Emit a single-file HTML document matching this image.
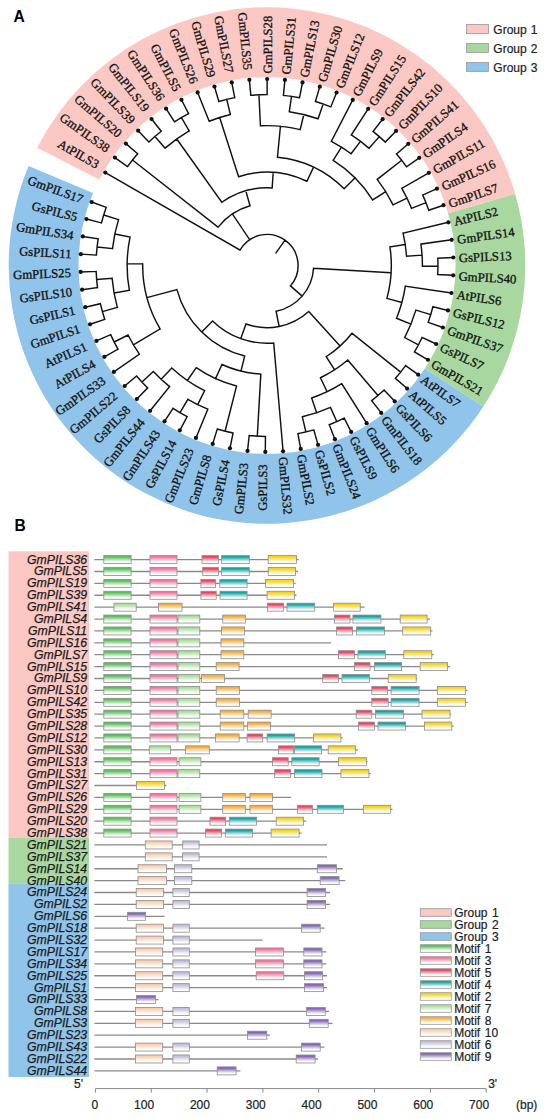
<!DOCTYPE html>
<html><head><meta charset="utf-8"><style>
html,body{margin:0;padding:0;background:#fff;}
body{width:550px;height:1119px;overflow:hidden;}
svg{display:block;}
</style></head><body>
<svg width="550" height="1119" viewBox="0 0 550 1119">
<defs><linearGradient id="gM1" x1="0" y1="0" x2="0" y2="1"><stop offset="0" stop-color="#5cbf5c"/><stop offset="0.18" stop-color="#5cbf5c"/><stop offset="0.8" stop-color="#fff"/></linearGradient><linearGradient id="gM3" x1="0" y1="0" x2="0" y2="1"><stop offset="0" stop-color="#f0789e"/><stop offset="0.18" stop-color="#f0789e"/><stop offset="0.8" stop-color="#fff"/></linearGradient><linearGradient id="gM5" x1="0" y1="0" x2="0" y2="1"><stop offset="0" stop-color="#e84560"/><stop offset="0.18" stop-color="#e84560"/><stop offset="0.8" stop-color="#fff"/></linearGradient><linearGradient id="gM4" x1="0" y1="0" x2="0" y2="1"><stop offset="0" stop-color="#17a3a3"/><stop offset="0.18" stop-color="#17a3a3"/><stop offset="0.8" stop-color="#fff"/></linearGradient><linearGradient id="gM2" x1="0" y1="0" x2="0" y2="1"><stop offset="0" stop-color="#f5d21e"/><stop offset="0.18" stop-color="#f5d21e"/><stop offset="0.8" stop-color="#fff"/></linearGradient><linearGradient id="gM7" x1="0" y1="0" x2="0" y2="1"><stop offset="0" stop-color="#a8e09a"/><stop offset="0.18" stop-color="#a8e09a"/><stop offset="0.8" stop-color="#fff"/></linearGradient><linearGradient id="gM8" x1="0" y1="0" x2="0" y2="1"><stop offset="0" stop-color="#f5ae3c"/><stop offset="0.18" stop-color="#f5ae3c"/><stop offset="0.8" stop-color="#fff"/></linearGradient><linearGradient id="gM10" x1="0" y1="0" x2="0" y2="1"><stop offset="0" stop-color="#fbcfae"/><stop offset="0.18" stop-color="#fbcfae"/><stop offset="0.8" stop-color="#fff"/></linearGradient><linearGradient id="gM6" x1="0" y1="0" x2="0" y2="1"><stop offset="0" stop-color="#c4bedb"/><stop offset="0.18" stop-color="#c4bedb"/><stop offset="0.8" stop-color="#fff"/></linearGradient><linearGradient id="gM9" x1="0" y1="0" x2="0" y2="1"><stop offset="0" stop-color="#8568b5"/><stop offset="0.18" stop-color="#8568b5"/><stop offset="0.8" stop-color="#fff"/></linearGradient></defs>
<rect width="550" height="1119" fill="#fff"/>
<path d="M28.59 166.09A258.30 258.30 0 0 0 483.39 406.54L424.92 368.43A188.50 188.50 0 0 1 93.02 192.96Z" fill="#90c4ea"/>
<path d="M483.39 406.54A258.30 258.30 0 0 0 515.14 193.76L448.08 213.15A188.50 188.50 0 0 1 424.92 368.43Z" fill="#a8d8a0"/>
<path d="M515.14 193.76A258.30 258.30 0 0 0 37.16 147.63L99.27 179.48A188.50 188.50 0 0 1 448.08 213.15Z" fill="#fbc8c3"/>
<path d="M137.64 153.75A170.94 170.94 0 0 0 127.58 166.59M137.64 153.75L125.88 143.60M127.58 166.59L114.91 157.60M161.20 131.24A170.94 170.94 0 0 0 148.88 141.93M161.20 131.24L151.58 119.03M148.88 141.93L138.14 130.70M188.59 113.60A170.94 170.94 0 0 0 174.47 121.77M188.59 113.60L181.47 99.79M174.47 121.77L166.06 108.70M189.21 130.97A155.40 155.40 0 0 0 165.10 148.17M165.10 148.17L154.91 136.44M189.21 130.97L181.44 117.52M234.69 97.64A170.94 170.94 0 0 0 218.84 101.48M218.84 101.48L214.46 86.57M234.69 97.64L231.75 82.38M230.38 114.48A155.40 155.40 0 0 0 209.21 121.25M209.21 121.25L197.65 92.40M230.38 114.48L226.72 99.37M267.13 94.56A170.94 170.94 0 0 0 250.84 95.33M250.84 95.33L249.37 79.86M267.13 94.56L267.14 79.02M299.56 97.69A170.94 170.94 0 0 0 283.42 95.35M283.42 95.35L284.91 79.88M299.56 97.69L302.52 82.43M330.81 106.92A170.94 170.94 0 0 0 315.41 101.56M315.41 101.56L319.81 86.65M330.81 106.92L336.61 92.50M318.07 118.73A155.40 155.40 0 0 0 289.29 111.71M289.29 111.71L291.52 96.33M318.07 118.73L323.17 104.05M300.16 129.63A139.86 139.86 0 0 0 260.43 125.79M260.43 125.79L258.97 94.75M300.16 129.63L303.85 114.53M406.57 166.80A170.94 170.94 0 0 0 396.53 153.95M396.53 153.95L408.30 143.81M406.57 166.80L419.26 157.83M428.76 210.24A170.94 170.94 0 0 0 422.76 195.08M422.76 195.08L436.92 188.67M428.76 210.24L443.47 205.22M411.49 208.31A155.40 155.40 0 0 0 401.85 188.27M401.85 188.27L428.82 172.83M411.49 208.31L425.94 202.59M393.03 204.86A139.86 139.86 0 0 0 377.21 179.39M377.21 179.39L401.70 160.26M393.03 204.86L407.03 198.12M385.30 142.11A170.94 170.94 0 0 0 373.01 131.40M373.01 131.40L382.64 119.21M385.30 142.11L396.06 130.89M369.08 148.33A155.40 155.40 0 0 0 351.31 134.96M351.31 134.96L368.17 108.85M369.08 148.33L379.28 136.61M351.09 153.74A139.86 139.86 0 0 0 331.34 141.32M331.34 141.32L352.78 99.92M351.09 153.74L360.43 141.32M372.60 199.90A124.32 124.32 0 0 0 333.20 160.27M372.60 199.90L385.80 191.70M333.20 160.27L341.47 147.12M344.14 188.80A108.78 108.78 0 0 0 277.45 157.22M277.45 157.22L280.43 126.29M344.14 188.80L355.16 177.84M306.90 181.23A93.24 93.24 0 0 0 238.60 176.69M238.60 176.69L219.67 117.48M306.90 181.23L313.55 167.18M272.15 187.97A77.70 77.70 0 0 0 221.87 202.25M221.87 202.25L176.75 139.00M272.15 187.97L273.18 172.47M250.02 205.70A62.16 62.16 0 0 0 218.08 227.16M218.08 227.16L132.46 160.05M250.02 205.70L245.78 190.75M106.27 207.32A170.94 170.94 0 0 0 101.45 222.90M106.27 207.32L91.66 202.03M101.45 222.90L86.40 219.03M98.15 238.87A170.94 170.94 0 0 0 96.38 255.09M98.15 238.87L82.80 236.45M96.38 255.09L80.87 254.14M118.52 219.64A155.40 155.40 0 0 0 112.52 248.64M118.52 219.64L103.67 215.05M112.52 248.64L97.07 246.96M96.16 271.39A170.94 170.94 0 0 0 97.50 287.65M96.16 271.39L80.63 271.93M97.50 287.65L82.09 289.66M100.38 303.70A170.94 170.94 0 0 0 104.78 319.41M100.38 303.70L85.24 307.18M104.78 319.41L90.04 324.31M112.12 278.26A155.40 155.40 0 0 0 117.36 307.42M112.12 278.26L96.64 279.54M117.36 307.42L102.40 311.61M130.04 237.15A139.86 139.86 0 0 0 129.34 290.22M130.04 237.15L114.83 234.00M129.34 290.22L114.05 292.96M110.66 334.62A170.94 170.94 0 0 0 117.96 349.21M110.66 334.62L96.45 340.91M117.96 349.21L104.41 356.82M128.03 335.05A155.40 155.40 0 0 0 139.38 354.17M128.03 335.05L114.14 342.00M139.38 354.17L113.85 371.90M142.69 263.85A124.32 124.32 0 0 0 160.09 328.95M142.69 263.85L127.15 263.65M160.09 328.95L133.36 344.81M136.55 375.97A170.94 170.94 0 0 0 147.67 387.90M136.55 375.97L124.69 386.01M147.67 387.90L136.82 399.03M153.34 371.47A155.40 155.40 0 0 0 169.62 386.60M153.34 371.47L141.97 382.07M169.62 386.60L150.14 410.82M173.07 408.32A170.94 170.94 0 0 0 187.10 416.62M173.07 408.32L164.53 421.30M187.10 416.62L179.84 430.36M187.90 399.26A155.40 155.40 0 0 0 207.79 409.18M187.90 399.26L179.99 412.64M207.79 409.18L195.95 437.91M171.79 367.95A139.86 139.86 0 0 0 204.60 390.67M171.79 367.95L161.21 379.33M204.60 390.67L197.67 404.58M217.23 429.03A170.94 170.94 0 0 0 233.04 433.03M217.23 429.03L212.71 443.90M233.04 433.03L229.96 448.26M196.22 367.71A124.32 124.32 0 0 0 236.52 386.03M196.22 367.71L187.38 380.48M236.52 386.03L225.09 431.22M249.16 435.51A170.94 170.94 0 0 0 265.45 436.43M249.16 435.51L247.54 450.96M265.45 436.43L265.31 451.97M221.98 364.53A108.78 108.78 0 0 0 260.82 374.10M221.98 364.53L215.55 378.67M260.82 374.10L257.30 436.16M176.92 289.58A93.24 93.24 0 0 0 244.68 356.03M176.92 289.58L146.90 297.60M244.68 356.03L240.96 371.12M212.59 320.97A77.70 77.70 0 0 0 273.70 342.91M212.59 320.97L201.71 332.07M273.70 342.91L283.09 451.28M395.42 378.32A170.94 170.94 0 0 0 405.59 365.57M395.42 378.32L407.10 388.57M405.59 365.57L418.19 374.66M371.68 400.64A170.94 170.94 0 0 0 384.09 390.04M371.68 400.64L381.20 412.92M384.09 390.04L394.73 401.37M297.91 433.62A170.94 170.94 0 0 0 313.79 429.91M297.91 433.62L300.72 448.91M313.79 429.91L318.05 444.86M329.25 424.70A170.94 170.94 0 0 0 344.14 418.04M329.25 424.70L334.91 439.18M344.14 418.04L351.15 431.91M302.36 416.82A155.40 155.40 0 0 0 330.43 407.36M302.36 416.82L305.90 431.96M330.43 407.36L336.77 421.55M311.66 398.04A139.86 139.86 0 0 0 341.72 383.73M311.66 398.04L316.62 412.76M341.72 383.73L366.63 423.13M320.44 377.75A124.32 124.32 0 0 0 347.74 360.04M347.74 360.04L378.01 395.49M320.44 377.75L327.12 391.78M326.21 356.75A108.78 108.78 0 0 0 352.06 333.31M352.06 333.31L400.66 372.06M326.21 356.75L334.67 369.79M246.00 324.00A62.16 62.16 0 0 0 308.76 311.54M246.00 324.00L240.75 338.63M308.76 311.54L340.08 346.08M437.70 274.49A170.94 170.94 0 0 0 437.78 258.18M437.78 258.18L453.31 257.52M437.70 274.49L453.22 275.31M422.40 266.26A155.40 155.40 0 0 0 420.92 244.08M420.92 244.08L451.70 239.80M422.40 266.26L437.94 266.34M406.55 256.18A139.86 139.86 0 0 0 403.06 233.11M403.06 233.11L448.41 222.31M406.55 256.18L422.05 255.15M428.21 322.34A170.94 170.94 0 0 0 432.90 306.72M428.21 322.34L442.87 327.51M432.90 306.72L447.98 310.47M414.50 351.90A170.94 170.94 0 0 0 422.06 337.45M414.50 351.90L427.91 359.76M422.06 337.45L436.16 343.99M404.68 337.56A155.40 155.40 0 0 0 415.85 310.13M415.85 310.13L430.74 314.59M404.68 337.56L418.45 344.77M396.53 318.25A139.86 139.86 0 0 0 405.33 286.14M405.33 286.14L451.44 293.02M396.53 318.25L410.92 324.11M386.90 298.35A124.32 124.32 0 0 0 389.92 246.90M389.92 246.90L405.29 244.57M386.90 298.35L401.89 302.46M276.08 311.23A46.62 46.62 0 0 0 313.54 268.23M276.08 311.23L279.11 326.47M313.54 268.23L391.11 272.78M290.43 285.92A31.08 31.08 0 1 0 240.05 250.01M240.05 250.01L105.32 172.59M249.67 239.70L232.35 213.90M290.43 285.92L302.15 296.12M285.04 240.19L276.02 252.84" fill="none" stroke="#111" stroke-width="1.45" stroke-linecap="square"/>
<g fill="#111"><circle cx="91.66" cy="202.03" r="2.10"/><circle cx="86.40" cy="219.03" r="2.10"/><circle cx="82.80" cy="236.45" r="2.10"/><circle cx="80.87" cy="254.14" r="2.10"/><circle cx="80.63" cy="271.93" r="2.10"/><circle cx="82.09" cy="289.66" r="2.10"/><circle cx="85.24" cy="307.18" r="2.10"/><circle cx="90.04" cy="324.31" r="2.10"/><circle cx="96.45" cy="340.91" r="2.10"/><circle cx="104.41" cy="356.82" r="2.10"/><circle cx="113.85" cy="371.90" r="2.10"/><circle cx="124.69" cy="386.01" r="2.10"/><circle cx="136.82" cy="399.03" r="2.10"/><circle cx="150.14" cy="410.82" r="2.10"/><circle cx="164.53" cy="421.30" r="2.10"/><circle cx="179.84" cy="430.36" r="2.10"/><circle cx="195.95" cy="437.91" r="2.10"/><circle cx="212.71" cy="443.90" r="2.10"/><circle cx="229.96" cy="448.26" r="2.10"/><circle cx="247.54" cy="450.96" r="2.10"/><circle cx="265.31" cy="451.97" r="2.10"/><circle cx="283.09" cy="451.28" r="2.10"/><circle cx="300.72" cy="448.91" r="2.10"/><circle cx="318.05" cy="444.86" r="2.10"/><circle cx="334.91" cy="439.18" r="2.10"/><circle cx="351.15" cy="431.91" r="2.10"/><circle cx="366.63" cy="423.13" r="2.10"/><circle cx="381.20" cy="412.92" r="2.10"/><circle cx="394.73" cy="401.37" r="2.10"/><circle cx="407.10" cy="388.57" r="2.10"/><circle cx="418.19" cy="374.66" r="2.10"/><circle cx="427.91" cy="359.76" r="2.10"/><circle cx="436.16" cy="343.99" r="2.10"/><circle cx="442.87" cy="327.51" r="2.10"/><circle cx="447.98" cy="310.47" r="2.10"/><circle cx="451.44" cy="293.02" r="2.10"/><circle cx="453.22" cy="275.31" r="2.10"/><circle cx="453.31" cy="257.52" r="2.10"/><circle cx="451.70" cy="239.80" r="2.10"/><circle cx="448.41" cy="222.31" r="2.10"/><circle cx="443.47" cy="205.22" r="2.10"/><circle cx="436.92" cy="188.67" r="2.10"/><circle cx="428.82" cy="172.83" r="2.10"/><circle cx="419.26" cy="157.83" r="2.10"/><circle cx="408.30" cy="143.81" r="2.10"/><circle cx="396.06" cy="130.89" r="2.10"/><circle cx="382.64" cy="119.21" r="2.10"/><circle cx="368.17" cy="108.85" r="2.10"/><circle cx="352.78" cy="99.92" r="2.10"/><circle cx="336.61" cy="92.50" r="2.10"/><circle cx="319.81" cy="86.65" r="2.10"/><circle cx="302.52" cy="82.43" r="2.10"/><circle cx="284.91" cy="79.88" r="2.10"/><circle cx="267.14" cy="79.02" r="2.10"/><circle cx="249.37" cy="79.86" r="2.10"/><circle cx="231.75" cy="82.38" r="2.10"/><circle cx="214.46" cy="86.57" r="2.10"/><circle cx="197.65" cy="92.40" r="2.10"/><circle cx="181.47" cy="99.79" r="2.10"/><circle cx="166.06" cy="108.70" r="2.10"/><circle cx="151.58" cy="119.03" r="2.10"/><circle cx="138.14" cy="130.70" r="2.10"/><circle cx="125.88" cy="143.60" r="2.10"/><circle cx="114.91" cy="157.60" r="2.10"/><circle cx="105.32" cy="172.59" r="2.10"/></g>
<g font-family="Liberation Serif" font-size="12.70" fill="#111" stroke="#111" stroke-width="0.3"><text x="82.89" y="198.85" dy="4.9" text-anchor="end" transform="rotate(19.90 82.89 198.85)">GmPILS17</text><text x="77.38" y="216.70" dy="4.9" text-anchor="end" transform="rotate(14.43 77.38 216.70)">GsPILS5</text><text x="73.59" y="235.00" dy="4.9" text-anchor="end" transform="rotate(8.96 73.59 235.00)">GmPILS34</text><text x="71.53" y="253.57" dy="4.9" text-anchor="end" transform="rotate(3.49 71.53 253.57)">GsPILS11</text><text x="70.87" y="272.27" dy="4.9" text-anchor="end" transform="rotate(-1.98 70.87 272.27)">GmPILS25</text><text x="72.00" y="290.98" dy="4.9" text-anchor="end" transform="rotate(-7.44 72.00 290.98)">GsPILS10</text><text x="74.92" y="309.54" dy="4.9" text-anchor="end" transform="rotate(-12.91 74.92 309.54)">GsPILS1</text><text x="79.60" y="327.78" dy="4.9" text-anchor="end" transform="rotate(-18.38 79.60 327.78)">GmPILS1</text><text x="86.01" y="345.52" dy="4.9" text-anchor="end" transform="rotate(-23.85 86.01 345.52)">AtPILS1</text><text x="94.11" y="362.61" dy="4.9" text-anchor="end" transform="rotate(-29.32 94.11 362.61)">AtPILS4</text><text x="103.81" y="378.88" dy="4.9" text-anchor="end" transform="rotate(-34.79 103.81 378.88)">GmPILS33</text><text x="115.09" y="393.74" dy="4.9" text-anchor="end" transform="rotate(-40.26 115.09 393.74)">GmPILS22</text><text x="127.77" y="407.41" dy="4.9" text-anchor="end" transform="rotate(-45.73 127.77 407.41)">GsPILS8</text><text x="141.68" y="419.83" dy="4.9" text-anchor="end" transform="rotate(-51.20 141.68 419.83)">GmPILS44</text><text x="156.69" y="430.89" dy="4.9" text-anchor="end" transform="rotate(-56.67 156.69 430.89)">GmPILS43</text><text x="172.67" y="440.50" dy="4.9" text-anchor="end" transform="rotate(-62.13 172.67 440.50)">GsPILS14</text><text x="189.48" y="448.56" dy="4.9" text-anchor="end" transform="rotate(-67.60 189.48 448.56)">GmPILS23</text><text x="206.97" y="455.02" dy="4.9" text-anchor="end" transform="rotate(-73.07 206.97 455.02)">GmPILS8</text><text x="224.99" y="459.81" dy="4.9" text-anchor="end" transform="rotate(-78.54 224.99 459.81)">GsPILS4</text><text x="243.38" y="462.89" dy="4.9" text-anchor="end" transform="rotate(-84.01 243.38 462.89)">GmPILS3</text><text x="262.25" y="464.24" dy="4.9" text-anchor="end" transform="rotate(-89.48 262.25 464.24)">GsPILS3</text><text x="283.56" y="456.78" dy="4.9" text-anchor="start" transform="rotate(-274.95 283.56 456.78)">GmPILS32</text><text x="301.72" y="454.33" dy="4.9" text-anchor="start" transform="rotate(-280.42 301.72 454.33)">GmPILS2</text><text x="319.56" y="450.17" dy="4.9" text-anchor="start" transform="rotate(-285.89 319.56 450.17)">GsPILS2</text><text x="336.92" y="444.32" dy="4.9" text-anchor="start" transform="rotate(-291.36 336.92 444.32)">GmPILS24</text><text x="353.64" y="436.84" dy="4.9" text-anchor="start" transform="rotate(-296.82 353.64 436.84)">GsPILS9</text><text x="369.58" y="427.80" dy="4.9" text-anchor="start" transform="rotate(-302.29 369.58 427.80)">GmPILS6</text><text x="384.58" y="417.29" dy="4.9" text-anchor="start" transform="rotate(-307.76 384.58 417.29)">GmPILS18</text><text x="398.51" y="405.39" dy="4.9" text-anchor="start" transform="rotate(-313.23 398.51 405.39)">GsPILS6</text><text x="411.24" y="392.22" dy="4.9" text-anchor="start" transform="rotate(-318.70 411.24 392.22)">AtPILS5</text><text x="422.67" y="377.89" dy="4.9" text-anchor="start" transform="rotate(-324.17 422.67 377.89)">AtPILS7</text><text x="432.67" y="362.55" dy="4.9" text-anchor="start" transform="rotate(-329.64 432.67 362.55)">GmPILS21</text><text x="441.16" y="346.31" dy="4.9" text-anchor="start" transform="rotate(-335.11 441.16 346.31)">GsPILS7</text><text x="448.07" y="329.35" dy="4.9" text-anchor="start" transform="rotate(-340.58 448.07 329.35)">GmPILS37</text><text x="453.33" y="311.80" dy="4.9" text-anchor="start" transform="rotate(-346.05 453.33 311.80)">GsPILS12</text><text x="456.90" y="293.83" dy="4.9" text-anchor="start" transform="rotate(-351.51 456.90 293.83)">AtPILS6</text><text x="458.73" y="275.60" dy="4.9" text-anchor="start" transform="rotate(-356.98 458.73 275.60)">GmPILS40</text><text x="458.82" y="257.28" dy="4.9" text-anchor="start" transform="rotate(-2.45 458.82 257.28)">GsPILS13</text><text x="457.17" y="239.04" dy="4.9" text-anchor="start" transform="rotate(-7.92 457.17 239.04)">GmPILS14</text><text x="453.78" y="221.03" dy="4.9" text-anchor="start" transform="rotate(-13.39 453.78 221.03)">AtPILS2</text><text x="448.69" y="203.43" dy="4.9" text-anchor="start" transform="rotate(-18.86 448.69 203.43)">GmPILS7</text><text x="441.95" y="186.40" dy="4.9" text-anchor="start" transform="rotate(-24.33 441.95 186.40)">GmPILS16</text><text x="433.61" y="170.09" dy="4.9" text-anchor="start" transform="rotate(-29.80 433.61 170.09)">GmPILS11</text><text x="423.76" y="154.64" dy="4.9" text-anchor="start" transform="rotate(-35.27 423.76 154.64)">GmPILS4</text><text x="412.48" y="140.21" dy="4.9" text-anchor="start" transform="rotate(-40.74 412.48 140.21)">GmPILS41</text><text x="399.88" y="126.91" dy="4.9" text-anchor="start" transform="rotate(-46.21 399.88 126.91)">GmPILS10</text><text x="386.07" y="114.88" dy="4.9" text-anchor="start" transform="rotate(-51.67 386.07 114.88)">GmPILS42</text><text x="371.17" y="104.21" dy="4.9" text-anchor="start" transform="rotate(-57.14 371.17 104.21)">GmPILS15</text><text x="355.32" y="95.02" dy="4.9" text-anchor="start" transform="rotate(-62.61 355.32 95.02)">GmPILS9</text><text x="338.67" y="87.38" dy="4.9" text-anchor="start" transform="rotate(-68.08 338.67 87.38)">GmPILS12</text><text x="321.37" y="81.36" dy="4.9" text-anchor="start" transform="rotate(-73.55 321.37 81.36)">GmPILS30</text><text x="303.57" y="77.02" dy="4.9" text-anchor="start" transform="rotate(-79.02 303.57 77.02)">GmPILS13</text><text x="285.44" y="74.39" dy="4.9" text-anchor="start" transform="rotate(-84.49 285.44 74.39)">GmPILS31</text><text x="267.14" y="73.50" dy="4.9" text-anchor="start" transform="rotate(-89.96 267.14 73.50)">GmPILS28</text><text x="248.42" y="69.88" dy="4.9" text-anchor="end" transform="rotate(84.57 248.42 69.88)">GmPILS35</text><text x="229.93" y="72.53" dy="4.9" text-anchor="end" transform="rotate(79.11 229.93 72.53)">GmPILS27</text><text x="212.16" y="76.81" dy="4.9" text-anchor="end" transform="rotate(73.64 212.16 76.81)">GmPILS29</text><text x="194.86" y="82.72" dy="4.9" text-anchor="end" transform="rotate(68.17 194.86 82.72)">GmPILS26</text><text x="178.19" y="90.21" dy="4.9" text-anchor="end" transform="rotate(62.70 178.19 90.21)">GmPILS5</text><text x="162.28" y="99.23" dy="4.9" text-anchor="end" transform="rotate(57.23 162.28 99.23)">GmPILS36</text><text x="147.29" y="109.68" dy="4.9" text-anchor="end" transform="rotate(51.76 147.29 109.68)">GmPILS19</text><text x="133.32" y="121.48" dy="4.9" text-anchor="end" transform="rotate(46.29 133.32 121.48)">GmPILS39</text><text x="120.52" y="134.52" dy="4.9" text-anchor="end" transform="rotate(40.82 120.52 134.52)">GmPILS20</text><text x="108.74" y="149.02" dy="4.9" text-anchor="end" transform="rotate(35.35 108.74 149.02)">GmPILS38</text><text x="98.36" y="164.64" dy="4.9" text-anchor="end" transform="rotate(29.88 98.36 164.64)">AtPILS3</text></g>
<g font-family="Liberation Sans" font-size="12" fill="#222" stroke="#222" stroke-width="0.2" word-spacing="0.8"><rect x="466.4" y="24.50" width="22.1" height="9.1" fill="#fbc8c3" stroke="#999" stroke-width="0.8"/><text x="493.3" y="33.60">Group 1</text><rect x="466.4" y="43.45" width="22.1" height="9.1" fill="#a8d8a0" stroke="#999" stroke-width="0.8"/><text x="493.3" y="52.55">Group 2</text><rect x="466.4" y="62.40" width="22.1" height="9.1" fill="#90c4ea" stroke="#999" stroke-width="0.8"/><text x="493.3" y="71.50">Group 3</text></g>
<path d="M95.4 1088.6H486.2" stroke="#888" stroke-width="1"/><path d="M95.40 1088.6V1092.6M151.23 1088.6V1092.6M207.06 1088.6V1092.6M262.89 1088.6V1092.6M318.72 1088.6V1092.6M374.55 1088.6V1092.6M430.38 1088.6V1092.6M486.21 1088.6V1092.6" stroke="#888" stroke-width="1"/>
<rect x="8.5" y="551.3" width="80.5" height="286.5" fill="#fbc8c3"/>
<rect x="8.5" y="837.8" width="80.5" height="46" fill="#a8d8a0"/>
<rect x="8.5" y="883.8" width="80.5" height="193.2" fill="#90c4ea"/>
<path d="M94.4 559.60H298.7M94.4 571.49H298.0M94.4 583.38H295.5M94.4 595.27H296.5M94.4 607.16H364.5M94.4 619.05H430.0M94.4 630.94H432.5M94.4 642.83H331.1M94.4 654.72H433.6M94.4 666.61H450.0M94.4 678.50H417.3M94.4 690.39H467.5M94.4 702.28H467.5M94.4 714.17H451.0M94.4 726.06H453.6M94.4 737.95H342.7M94.4 749.84H358.0M94.4 761.73H367.5M94.4 773.62H370.7M94.4 785.51H166.4M94.4 797.40H291.1M94.4 809.29H392.5M94.4 821.18H306.4M94.4 833.07H301.6M94.4 844.96H327.0M94.4 856.85H327.0M94.4 868.74H342.7M94.4 880.63H345.3M94.4 892.52H330.0M94.4 904.41H330.0M94.4 916.30H164.5M94.4 928.19H324.5M94.4 940.08H262.5M94.4 951.97H326.4M94.4 963.86H326.4M94.4 975.75H327.0M94.4 987.64H327.0M94.4 999.53H158.4M94.4 1011.42H329.0M94.4 1023.31H332.5M94.4 1035.20H270.0M94.4 1047.09H324.4M94.4 1058.98H318.0M94.4 1070.87H240.5" stroke="#8a8a8a" stroke-width="1.3" fill="none"/>
<g stroke="#8c8c8c" stroke-width="0.8"><rect x="103.8" y="555.60" width="27.3" height="8.0" fill="url(#gM1)"/><rect x="150.0" y="555.60" width="27.0" height="8.0" fill="url(#gM3)"/><rect x="202.0" y="555.60" width="16.4" height="8.0" fill="url(#gM5)"/><rect x="221.6" y="555.60" width="27.7" height="8.0" fill="url(#gM4)"/><rect x="268.2" y="555.60" width="28.3" height="8.0" fill="url(#gM2)"/><rect x="103.8" y="567.49" width="27.3" height="8.0" fill="url(#gM1)"/><rect x="150.0" y="567.49" width="27.0" height="8.0" fill="url(#gM3)"/><rect x="202.7" y="567.49" width="15.7" height="8.0" fill="url(#gM5)"/><rect x="221.6" y="567.49" width="27.7" height="8.0" fill="url(#gM4)"/><rect x="268.2" y="567.49" width="27.3" height="8.0" fill="url(#gM2)"/><rect x="103.8" y="579.38" width="27.3" height="8.0" fill="url(#gM1)"/><rect x="150.0" y="579.38" width="27.0" height="8.0" fill="url(#gM3)"/><rect x="200.9" y="579.38" width="14.6" height="8.0" fill="url(#gM5)"/><rect x="219.8" y="579.38" width="27.3" height="8.0" fill="url(#gM4)"/><rect x="265.6" y="579.38" width="28.0" height="8.0" fill="url(#gM2)"/><rect x="103.8" y="591.27" width="27.3" height="8.0" fill="url(#gM1)"/><rect x="150.0" y="591.27" width="27.0" height="8.0" fill="url(#gM3)"/><rect x="200.9" y="591.27" width="15.3" height="8.0" fill="url(#gM5)"/><rect x="220.0" y="591.27" width="27.1" height="8.0" fill="url(#gM4)"/><rect x="267.1" y="591.27" width="27.3" height="8.0" fill="url(#gM2)"/><rect x="114.0" y="603.16" width="22.2" height="8.0" fill="url(#gM7)"/><rect x="158.4" y="603.16" width="23.6" height="8.0" fill="url(#gM8)"/><rect x="267.5" y="603.16" width="16.0" height="8.0" fill="url(#gM5)"/><rect x="287.0" y="603.16" width="27.7" height="8.0" fill="url(#gM4)"/><rect x="333.6" y="603.16" width="26.6" height="8.0" fill="url(#gM2)"/><rect x="103.8" y="615.05" width="27.3" height="8.0" fill="url(#gM1)"/><rect x="150.0" y="615.05" width="27.0" height="8.0" fill="url(#gM3)"/><rect x="178.0" y="615.05" width="21.8" height="8.0" fill="url(#gM7)"/><rect x="222.7" y="615.05" width="22.9" height="8.0" fill="url(#gM8)"/><rect x="334.4" y="615.05" width="15.6" height="8.0" fill="url(#gM5)"/><rect x="352.9" y="615.05" width="28.0" height="8.0" fill="url(#gM4)"/><rect x="400.2" y="615.05" width="26.9" height="8.0" fill="url(#gM2)"/><rect x="103.8" y="626.94" width="27.3" height="8.0" fill="url(#gM1)"/><rect x="150.0" y="626.94" width="27.0" height="8.0" fill="url(#gM3)"/><rect x="178.0" y="626.94" width="21.8" height="8.0" fill="url(#gM7)"/><rect x="221.6" y="626.94" width="22.9" height="8.0" fill="url(#gM8)"/><rect x="336.5" y="626.94" width="16.0" height="8.0" fill="url(#gM5)"/><rect x="356.5" y="626.94" width="28.0" height="8.0" fill="url(#gM4)"/><rect x="402.7" y="626.94" width="28.0" height="8.0" fill="url(#gM2)"/><rect x="103.8" y="638.83" width="27.3" height="8.0" fill="url(#gM1)"/><rect x="150.0" y="638.83" width="27.0" height="8.0" fill="url(#gM3)"/><rect x="178.0" y="638.83" width="21.8" height="8.0" fill="url(#gM7)"/><rect x="221.0" y="638.83" width="22.8" height="8.0" fill="url(#gM8)"/><rect x="103.8" y="650.72" width="27.3" height="8.0" fill="url(#gM1)"/><rect x="150.0" y="650.72" width="27.0" height="8.0" fill="url(#gM3)"/><rect x="178.0" y="650.72" width="21.8" height="8.0" fill="url(#gM7)"/><rect x="221.0" y="650.72" width="22.8" height="8.0" fill="url(#gM8)"/><rect x="338.4" y="650.72" width="16.0" height="8.0" fill="url(#gM5)"/><rect x="358.0" y="650.72" width="27.3" height="8.0" fill="url(#gM4)"/><rect x="403.8" y="650.72" width="28.0" height="8.0" fill="url(#gM2)"/><rect x="103.8" y="662.61" width="27.3" height="8.0" fill="url(#gM1)"/><rect x="150.0" y="662.61" width="27.0" height="8.0" fill="url(#gM3)"/><rect x="178.0" y="662.61" width="21.8" height="8.0" fill="url(#gM7)"/><rect x="216.2" y="662.61" width="22.9" height="8.0" fill="url(#gM8)"/><rect x="354.4" y="662.61" width="15.6" height="8.0" fill="url(#gM5)"/><rect x="374.4" y="662.61" width="27.2" height="8.0" fill="url(#gM4)"/><rect x="420.2" y="662.61" width="27.3" height="8.0" fill="url(#gM2)"/><rect x="103.8" y="674.50" width="27.3" height="8.0" fill="url(#gM1)"/><rect x="150.0" y="674.50" width="27.0" height="8.0" fill="url(#gM3)"/><rect x="178.0" y="674.50" width="21.8" height="8.0" fill="url(#gM7)"/><rect x="201.6" y="674.50" width="22.9" height="8.0" fill="url(#gM8)"/><rect x="322.7" y="674.50" width="15.7" height="8.0" fill="url(#gM5)"/><rect x="342.0" y="674.50" width="27.3" height="8.0" fill="url(#gM4)"/><rect x="388.2" y="674.50" width="28.0" height="8.0" fill="url(#gM2)"/><rect x="103.8" y="686.39" width="27.3" height="8.0" fill="url(#gM1)"/><rect x="150.0" y="686.39" width="27.0" height="8.0" fill="url(#gM3)"/><rect x="178.0" y="686.39" width="21.8" height="8.0" fill="url(#gM7)"/><rect x="216.2" y="686.39" width="23.3" height="8.0" fill="url(#gM8)"/><rect x="371.8" y="686.39" width="15.7" height="8.0" fill="url(#gM5)"/><rect x="391.1" y="686.39" width="28.0" height="8.0" fill="url(#gM4)"/><rect x="437.3" y="686.39" width="28.3" height="8.0" fill="url(#gM2)"/><rect x="103.8" y="698.28" width="27.3" height="8.0" fill="url(#gM1)"/><rect x="150.0" y="698.28" width="27.0" height="8.0" fill="url(#gM3)"/><rect x="178.0" y="698.28" width="21.8" height="8.0" fill="url(#gM7)"/><rect x="216.2" y="698.28" width="23.3" height="8.0" fill="url(#gM8)"/><rect x="371.8" y="698.28" width="16.4" height="8.0" fill="url(#gM5)"/><rect x="391.1" y="698.28" width="28.0" height="8.0" fill="url(#gM4)"/><rect x="437.3" y="698.28" width="28.3" height="8.0" fill="url(#gM2)"/><rect x="103.8" y="710.17" width="27.3" height="8.0" fill="url(#gM1)"/><rect x="150.0" y="710.17" width="27.0" height="8.0" fill="url(#gM3)"/><rect x="178.0" y="710.17" width="21.8" height="8.0" fill="url(#gM7)"/><rect x="220.2" y="710.17" width="23.6" height="8.0" fill="url(#gM8)"/><rect x="248.2" y="710.17" width="22.9" height="8.0" fill="url(#gM8)"/><rect x="356.2" y="710.17" width="15.6" height="8.0" fill="url(#gM5)"/><rect x="375.5" y="710.17" width="28.0" height="8.0" fill="url(#gM4)"/><rect x="422.0" y="710.17" width="28.0" height="8.0" fill="url(#gM2)"/><rect x="103.8" y="722.06" width="27.3" height="8.0" fill="url(#gM1)"/><rect x="150.0" y="722.06" width="27.0" height="8.0" fill="url(#gM3)"/><rect x="178.0" y="722.06" width="21.8" height="8.0" fill="url(#gM7)"/><rect x="220.2" y="722.06" width="23.6" height="8.0" fill="url(#gM8)"/><rect x="247.5" y="722.06" width="22.9" height="8.0" fill="url(#gM8)"/><rect x="358.4" y="722.06" width="16.0" height="8.0" fill="url(#gM5)"/><rect x="378.0" y="722.06" width="27.6" height="8.0" fill="url(#gM4)"/><rect x="424.5" y="722.06" width="27.3" height="8.0" fill="url(#gM2)"/><rect x="103.8" y="733.95" width="27.3" height="8.0" fill="url(#gM1)"/><rect x="150.0" y="733.95" width="27.0" height="8.0" fill="url(#gM3)"/><rect x="178.0" y="733.95" width="21.8" height="8.0" fill="url(#gM7)"/><rect x="215.5" y="733.95" width="23.6" height="8.0" fill="url(#gM8)"/><rect x="247.1" y="733.95" width="15.6" height="8.0" fill="url(#gM5)"/><rect x="267.1" y="733.95" width="27.6" height="8.0" fill="url(#gM4)"/><rect x="313.6" y="733.95" width="27.3" height="8.0" fill="url(#gM2)"/><rect x="103.8" y="745.84" width="27.3" height="8.0" fill="url(#gM1)"/><rect x="149.3" y="745.84" width="21.4" height="8.0" fill="url(#gM7)"/><rect x="185.6" y="745.84" width="23.7" height="8.0" fill="url(#gM8)"/><rect x="278.4" y="745.84" width="15.2" height="8.0" fill="url(#gM5)"/><rect x="294.4" y="745.84" width="27.2" height="8.0" fill="url(#gM4)"/><rect x="328.2" y="745.84" width="27.3" height="8.0" fill="url(#gM2)"/><rect x="103.8" y="757.73" width="27.3" height="8.0" fill="url(#gM1)"/><rect x="150.0" y="757.73" width="27.0" height="8.0" fill="url(#gM3)"/><rect x="179.1" y="757.73" width="21.8" height="8.0" fill="url(#gM7)"/><rect x="272.5" y="757.73" width="15.7" height="8.0" fill="url(#gM5)"/><rect x="291.8" y="757.73" width="27.3" height="8.0" fill="url(#gM4)"/><rect x="338.4" y="757.73" width="28.0" height="8.0" fill="url(#gM2)"/><rect x="103.8" y="769.62" width="27.3" height="8.0" fill="url(#gM1)"/><rect x="150.0" y="769.62" width="27.0" height="8.0" fill="url(#gM3)"/><rect x="178.0" y="769.62" width="21.8" height="8.0" fill="url(#gM7)"/><rect x="274.7" y="769.62" width="16.0" height="8.0" fill="url(#gM5)"/><rect x="294.4" y="769.62" width="27.6" height="8.0" fill="url(#gM4)"/><rect x="340.9" y="769.62" width="28.0" height="8.0" fill="url(#gM2)"/><rect x="136.5" y="781.51" width="28.0" height="8.0" fill="url(#gM2)"/><rect x="103.8" y="793.40" width="27.3" height="8.0" fill="url(#gM1)"/><rect x="150.0" y="793.40" width="27.0" height="8.0" fill="url(#gM3)"/><rect x="179.1" y="793.40" width="21.8" height="8.0" fill="url(#gM7)"/><rect x="222.7" y="793.40" width="22.6" height="8.0" fill="url(#gM8)"/><rect x="250.0" y="793.40" width="22.5" height="8.0" fill="url(#gM8)"/><rect x="103.8" y="805.29" width="27.3" height="8.0" fill="url(#gM1)"/><rect x="150.0" y="805.29" width="27.0" height="8.0" fill="url(#gM3)"/><rect x="179.1" y="805.29" width="21.8" height="8.0" fill="url(#gM7)"/><rect x="222.7" y="805.29" width="22.6" height="8.0" fill="url(#gM8)"/><rect x="250.0" y="805.29" width="22.5" height="8.0" fill="url(#gM8)"/><rect x="297.3" y="805.29" width="15.2" height="8.0" fill="url(#gM5)"/><rect x="317.3" y="805.29" width="26.2" height="8.0" fill="url(#gM4)"/><rect x="363.5" y="805.29" width="27.2" height="8.0" fill="url(#gM2)"/><rect x="103.8" y="817.18" width="27.3" height="8.0" fill="url(#gM1)"/><rect x="150.0" y="817.18" width="27.0" height="8.0" fill="url(#gM3)"/><rect x="210.0" y="817.18" width="15.6" height="8.0" fill="url(#gM5)"/><rect x="229.3" y="817.18" width="27.2" height="8.0" fill="url(#gM4)"/><rect x="276.2" y="817.18" width="27.3" height="8.0" fill="url(#gM2)"/><rect x="103.8" y="829.07" width="27.3" height="8.0" fill="url(#gM1)"/><rect x="150.0" y="829.07" width="27.0" height="8.0" fill="url(#gM3)"/><rect x="205.6" y="829.07" width="16.0" height="8.0" fill="url(#gM5)"/><rect x="225.3" y="829.07" width="27.2" height="8.0" fill="url(#gM4)"/><rect x="271.1" y="829.07" width="28.0" height="8.0" fill="url(#gM2)"/><rect x="145.3" y="840.96" width="26.9" height="8.0" fill="url(#gM10)"/><rect x="182.7" y="840.96" width="16.4" height="8.0" fill="url(#gM6)"/><rect x="145.3" y="852.85" width="26.9" height="8.0" fill="url(#gM10)"/><rect x="182.7" y="852.85" width="16.4" height="8.0" fill="url(#gM6)"/><rect x="138.0" y="864.74" width="28.4" height="8.0" fill="url(#gM10)"/><rect x="174.4" y="864.74" width="17.4" height="8.0" fill="url(#gM6)"/><rect x="317.3" y="864.74" width="19.2" height="8.0" fill="url(#gM9)"/><rect x="138.0" y="876.63" width="28.4" height="8.0" fill="url(#gM10)"/><rect x="174.4" y="876.63" width="17.4" height="8.0" fill="url(#gM6)"/><rect x="320.2" y="876.63" width="18.9" height="8.0" fill="url(#gM9)"/><rect x="136.2" y="888.52" width="27.3" height="8.0" fill="url(#gM10)"/><rect x="172.9" y="888.52" width="16.4" height="8.0" fill="url(#gM6)"/><rect x="307.1" y="888.52" width="18.5" height="8.0" fill="url(#gM9)"/><rect x="136.2" y="900.41" width="27.3" height="8.0" fill="url(#gM10)"/><rect x="172.9" y="900.41" width="16.4" height="8.0" fill="url(#gM6)"/><rect x="307.1" y="900.41" width="18.5" height="8.0" fill="url(#gM9)"/><rect x="127.5" y="912.30" width="18.1" height="8.0" fill="url(#gM9)"/><rect x="136.2" y="924.19" width="27.3" height="8.0" fill="url(#gM10)"/><rect x="172.9" y="924.19" width="16.4" height="8.0" fill="url(#gM6)"/><rect x="301.6" y="924.19" width="18.6" height="8.0" fill="url(#gM9)"/><rect x="136.2" y="936.08" width="27.3" height="8.0" fill="url(#gM10)"/><rect x="172.9" y="936.08" width="16.4" height="8.0" fill="url(#gM6)"/><rect x="135.5" y="947.97" width="27.2" height="8.0" fill="url(#gM10)"/><rect x="172.9" y="947.97" width="16.4" height="8.0" fill="url(#gM6)"/><rect x="255.5" y="947.97" width="28.0" height="8.0" fill="url(#gM3)"/><rect x="303.8" y="947.97" width="18.2" height="8.0" fill="url(#gM9)"/><rect x="135.5" y="959.86" width="27.2" height="8.0" fill="url(#gM10)"/><rect x="172.9" y="959.86" width="16.4" height="8.0" fill="url(#gM6)"/><rect x="255.5" y="959.86" width="28.0" height="8.0" fill="url(#gM3)"/><rect x="303.8" y="959.86" width="18.2" height="8.0" fill="url(#gM9)"/><rect x="135.5" y="971.75" width="27.2" height="8.0" fill="url(#gM10)"/><rect x="172.9" y="971.75" width="16.4" height="8.0" fill="url(#gM6)"/><rect x="256.2" y="971.75" width="27.6" height="8.0" fill="url(#gM3)"/><rect x="304.5" y="971.75" width="18.2" height="8.0" fill="url(#gM9)"/><rect x="135.5" y="983.64" width="27.2" height="8.0" fill="url(#gM10)"/><rect x="172.9" y="983.64" width="16.4" height="8.0" fill="url(#gM6)"/><rect x="304.5" y="983.64" width="19.0" height="8.0" fill="url(#gM9)"/><rect x="136.5" y="995.53" width="19.0" height="8.0" fill="url(#gM9)"/><rect x="135.5" y="1007.42" width="27.2" height="8.0" fill="url(#gM10)"/><rect x="172.9" y="1007.42" width="16.4" height="8.0" fill="url(#gM6)"/><rect x="306.4" y="1007.42" width="18.9" height="8.0" fill="url(#gM9)"/><rect x="135.5" y="1019.31" width="27.2" height="8.0" fill="url(#gM10)"/><rect x="172.9" y="1019.31" width="16.4" height="8.0" fill="url(#gM6)"/><rect x="309.3" y="1019.31" width="18.9" height="8.0" fill="url(#gM9)"/><rect x="247.5" y="1031.20" width="19.3" height="8.0" fill="url(#gM9)"/><rect x="135.5" y="1043.09" width="27.2" height="8.0" fill="url(#gM10)"/><rect x="172.9" y="1043.09" width="16.4" height="8.0" fill="url(#gM6)"/><rect x="301.5" y="1043.09" width="18.7" height="8.0" fill="url(#gM9)"/><rect x="135.5" y="1054.98" width="27.2" height="8.0" fill="url(#gM10)"/><rect x="172.9" y="1054.98" width="16.4" height="8.0" fill="url(#gM6)"/><rect x="296.2" y="1054.98" width="18.9" height="8.0" fill="url(#gM9)"/><rect x="217.2" y="1066.87" width="18.9" height="8.0" fill="url(#gM9)"/></g>
<g font-family="Liberation Sans" font-style="italic" font-size="12.3" fill="#1a1a1a" stroke="#1a1a1a" stroke-width="0.25" text-anchor="end"><text x="87.2" y="563.50">GmPILS36</text><text x="87.2" y="575.39">GmPILS5</text><text x="87.2" y="587.28">GmPILS19</text><text x="87.2" y="599.17">GmPILS39</text><text x="87.2" y="611.06">GmPILS41</text><text x="87.2" y="622.95">GmPILS4</text><text x="87.2" y="634.84">GmPILS11</text><text x="87.2" y="646.73">GmPILS16</text><text x="87.2" y="658.62">GmPILS7</text><text x="87.2" y="670.51">GmPILS15</text><text x="87.2" y="682.40">GmPILS9</text><text x="87.2" y="694.29">GmPILS10</text><text x="87.2" y="706.18">GmPILS42</text><text x="87.2" y="718.07">GmPILS35</text><text x="87.2" y="729.96">GmPILS28</text><text x="87.2" y="741.85">GmPILS12</text><text x="87.2" y="753.74">GmPILS30</text><text x="87.2" y="765.63">GmPILS13</text><text x="87.2" y="777.52">GmPILS31</text><text x="87.2" y="789.41">GmPILS27</text><text x="87.2" y="801.30">GmPILS26</text><text x="87.2" y="813.19">GmPILS29</text><text x="87.2" y="825.08">GmPILS20</text><text x="87.2" y="836.97">GmPILS38</text><text x="87.2" y="848.86">GmPILS21</text><text x="87.2" y="860.75">GmPILS37</text><text x="87.2" y="872.64">GmPILS14</text><text x="87.2" y="884.53">GmPILS40</text><text x="87.2" y="896.42">GmPILS24</text><text x="87.2" y="908.31">GmPILS2</text><text x="87.2" y="920.20">GmPILS6</text><text x="87.2" y="932.09">GmPILS18</text><text x="87.2" y="943.98">GmPILS32</text><text x="87.2" y="955.87">GmPILS17</text><text x="87.2" y="967.76">GmPILS34</text><text x="87.2" y="979.65">GmPILS25</text><text x="87.2" y="991.54">GmPILS1</text><text x="87.2" y="1003.43">GmPILS33</text><text x="87.2" y="1015.32">GmPILS8</text><text x="87.2" y="1027.21">GmPILS3</text><text x="87.2" y="1039.10">GmPILS23</text><text x="87.2" y="1050.99">GmPILS43</text><text x="87.2" y="1062.88">GmPILS22</text><text x="87.2" y="1074.77">GmPILS44</text></g>
<g font-family="Liberation Sans" font-size="12" fill="#222" stroke="#222" stroke-width="0.2"><text x="98.30" y="1108.6" text-anchor="end">0</text><text x="154.13" y="1108.6" text-anchor="end">100</text><text x="209.96" y="1108.6" text-anchor="end">200</text><text x="265.79" y="1108.6" text-anchor="end">300</text><text x="321.62" y="1108.6" text-anchor="end">400</text><text x="377.45" y="1108.6" text-anchor="end">500</text><text x="433.28" y="1108.6" text-anchor="end">600</text><text x="489.11" y="1108.6" text-anchor="end">700</text><text x="516" y="1108.6">(bp)</text><text x="74" y="1087.6">5'</text><text x="488.2" y="1087.8">3'</text></g>
<g font-family="Liberation Sans" font-size="12" fill="#222" stroke="#222" stroke-width="0.2" word-spacing="1.2"><rect x="420.3" y="908.70" width="31" height="7.6" fill="#fbc8c3" stroke="#999" stroke-width="0.8"/><text x="454.2" y="917.10">Group 1</text><rect x="420.3" y="920.70" width="31" height="7.6" fill="#a8d8a0" stroke="#999" stroke-width="0.8"/><text x="454.2" y="929.10">Group 2</text><rect x="420.3" y="932.70" width="31" height="7.6" fill="#90c4ea" stroke="#999" stroke-width="0.8"/><text x="454.2" y="941.10">Group 3</text><rect x="420.3" y="944.70" width="31" height="7.6" fill="url(#gM1)" stroke="#999" stroke-width="0.8"/><text x="454.2" y="953.10">Motif 1</text><rect x="420.3" y="956.70" width="31" height="7.6" fill="url(#gM3)" stroke="#999" stroke-width="0.8"/><text x="454.2" y="965.10">Motif 3</text><rect x="420.3" y="968.70" width="31" height="7.6" fill="url(#gM5)" stroke="#999" stroke-width="0.8"/><text x="454.2" y="977.10">Motif 5</text><rect x="420.3" y="980.70" width="31" height="7.6" fill="url(#gM4)" stroke="#999" stroke-width="0.8"/><text x="454.2" y="989.10">Motif 4</text><rect x="420.3" y="992.70" width="31" height="7.6" fill="url(#gM2)" stroke="#999" stroke-width="0.8"/><text x="454.2" y="1001.10">Motif 2</text><rect x="420.3" y="1004.70" width="31" height="7.6" fill="url(#gM7)" stroke="#999" stroke-width="0.8"/><text x="454.2" y="1013.10">Motif 7</text><rect x="420.3" y="1016.70" width="31" height="7.6" fill="url(#gM8)" stroke="#999" stroke-width="0.8"/><text x="454.2" y="1025.10">Motif 8</text><rect x="420.3" y="1028.70" width="31" height="7.6" fill="url(#gM10)" stroke="#999" stroke-width="0.8"/><text x="454.2" y="1037.10">Motif 10</text><rect x="420.3" y="1040.70" width="31" height="7.6" fill="url(#gM6)" stroke="#999" stroke-width="0.8"/><text x="454.2" y="1049.10">Motif 6</text><rect x="420.3" y="1052.70" width="31" height="7.6" fill="url(#gM9)" stroke="#999" stroke-width="0.8"/><text x="454.2" y="1061.10">Motif 9</text></g>
<g font-family="Liberation Sans" font-weight="bold" font-size="15.6" fill="#000"><text x="13.6" y="21.6">A</text><text x="14.4" y="530.7">B</text></g>
</svg>
</body></html>
